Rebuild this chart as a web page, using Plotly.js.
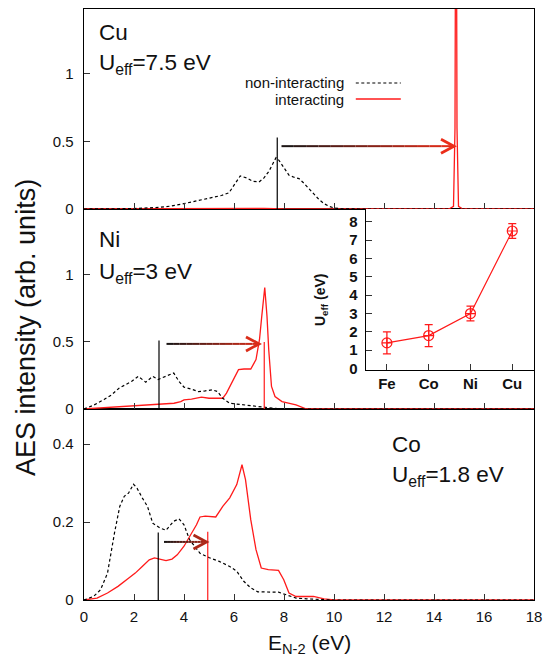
<!DOCTYPE html>
<html><head><meta charset="utf-8">
<script src="https://cdn.plot.ly/plotly-3.0.1.min.js"></script>
<style>html,body{margin:0;padding:0;background:#fff}#chart{width:545px;height:656px}</style>
</head><body><div id="chart"></div>
<script>
// ---------- data ----------
// Cu panel (top)
var cuNonX = [0,1,2,3,3.5,4,4.5,5,5.5,5.8,6.0,6.25,6.5,6.75,7.0,7.2,7.4,7.55,7.68,7.8,8.0,8.2,8.4,8.6,8.8,9.0,9.2,9.4,9.6,9.8,10.0,10.3,11,18];
var cuNon  = [0,0,0.003,0.012,0.022,0.04,0.06,0.08,0.1,0.12,0.18,0.245,0.23,0.205,0.2,0.23,0.28,0.34,0.38,0.36,0.3,0.25,0.235,0.225,0.19,0.15,0.105,0.07,0.04,0.02,0.008,0.002,0,0];
var cuIntX = [0,5,5.8,6.5,7.2,8,14.6,14.78,14.84,14.88,14.92,14.98,15.15,18];
var cuInt  = [0,0.002,0.006,0.008,0.004,0,0,0.02,0.6,3.5,0.6,0.02,0,0];
// Ni panel (middle)
var niNonX = [0,0.4,0.8,1.1,1.4,1.65,1.9,2.17,2.33,2.47,2.6,2.75,2.96,3.17,3.41,3.59,3.8,4.0,4.3,4.57,4.85,5.13,5.34,5.55,5.83,6.25,6.67,7.1,7.6,8.1,18];
var niNon  = [0,0.03,0.07,0.105,0.155,0.18,0.205,0.243,0.22,0.2,0.22,0.243,0.22,0.235,0.25,0.268,0.205,0.163,0.148,0.13,0.135,0.143,0.13,0.08,0.043,0.033,0.023,0.013,0.005,0,0];
var niIntX = [0,0.8,1.5,2.2,2.75,3.3,3.6,3.87,4.0,4.3,4.7,5.0,5.27,5.55,5.7,5.97,6.18,6.4,6.67,6.88,7.02,7.11,7.23,7.32,7.39,7.5,7.64,7.92,8.2,8.48,8.9,18];
var niInt  = [0,0.01,0.018,0.025,0.035,0.038,0.043,0.055,0.068,0.073,0.088,0.08,0.078,0.08,0.118,0.218,0.293,0.298,0.298,0.368,0.518,0.69,0.905,0.69,0.44,0.168,0.093,0.055,0.043,0.03,0,0];
// Co panel (bottom)
var coNonX = [0,0.38,0.66,0.94,1.22,1.43,1.61,1.78,1.98,2.12,2.33,2.54,2.75,3.03,3.28,3.59,3.8,4.0,4.22,4.43,4.64,4.99,5.41,5.83,6.11,6.39,6.67,6.95,7.37,7.78,8.06,8.48,8.9,9.46,9.88,18];
var coNon  = [0,0.009,0.026,0.069,0.172,0.24,0.266,0.274,0.297,0.287,0.262,0.24,0.197,0.185,0.179,0.202,0.208,0.193,0.155,0.138,0.12,0.109,0.099,0.086,0.074,0.048,0.031,0.021,0.021,0.02,0.014,0.005,0.003,0.001,0,0];
var coIntX = [0,0.52,0.94,1.36,1.78,2.05,2.33,2.61,2.82,3.03,3.28,3.52,3.73,4.0,4.29,4.5,4.64,4.85,5.27,5.55,5.83,6.11,6.32,6.46,6.67,6.88,7.09,7.37,7.78,7.99,8.2,8.48,9.18,9.6,10.0,18];
var coInt  = [0,0.005,0.018,0.035,0.056,0.069,0.086,0.103,0.108,0.105,0.101,0.105,0.116,0.138,0.168,0.193,0.213,0.215,0.213,0.24,0.262,0.296,0.347,0.309,0.206,0.129,0.082,0.078,0.076,0.052,0.018,0.009,0.009,0.003,0,0];
// centroid markers: [x, height]
var cuCentNon = [7.73, 0.53];
var niCentNon = [3.0, 0.51];
var niCentInt = [7.21, 0.50];
var coCentNon = [2.97, 0.173];
var coCentInt = [4.95, 0.175];
// inset
var elements = ['Fe','Co','Ni','Cu'];
var ueff     = [1.4, 1.8, 3.0, 7.5];
var ueffErr  = [0.6, 0.6, 0.4, 0.4];
// tick labels
var xTicks = [0,2,4,6,8,10,12,14,16,18];
var yTicksBig = [0,0.5,1];
var yTicksCo = [0,0.2,0.4];
var yTicksInset = [0,1,2,3,4,5,6,7,8];

// ---------- styles ----------
var FONT = 'Liberation Sans, Arial, Helvetica, sans-serif';
var RED = '#ff1a1a';
var dashLine = {color:'#000', width:1.2, dash:'3px,2.5px'};
var redLine = {color:RED, width:1.3};

function tr(x, y, line, xa, ya){ return {x:x, y:y, mode:'lines', line:line, xaxis:xa, yaxis:ya, hoverinfo:'skip', showlegend:false}; }
function vline(c, color, xa, ya){ return tr([c[0],c[0]],[0,c[1]],{color:color,width:1.2},xa,ya); }

var data = [
  tr(coIntX, coInt, redLine, 'x','y'),
  tr(coNonX, coNon, dashLine, 'x','y'),
  vline(coCentNon,'#000','x','y'),
  vline(coCentInt,RED,'x','y'),
  tr(niIntX, niInt, redLine, 'x2','y2'),
  tr(niNonX, niNon, dashLine, 'x2','y2'),
  vline(niCentNon,'#000','x2','y2'),
  vline(niCentInt,RED,'x2','y2'),
  tr(cuIntX, cuInt, redLine, 'x3','y3'),
  tr(cuNonX, cuNon, dashLine, 'x3','y3'),
  vline(cuCentNon,'#000','x3','y3'),
  {x:[1,2,3,4], y:ueff, text:elements, mode:'lines+markers', xaxis:'x4', yaxis:'y4', showlegend:false, hoverinfo:'skip',
   line:{color:RED,width:1.2}, marker:{symbol:'circle-cross-open', size:10, color:RED, line:{width:1.2, color:RED}},
   error_y:{type:'data', array:ueffErr, visible:true, color:RED, thickness:1.3, width:4}}
];

var dY = 191/591, dM = 391/591;
function xax(anchor, labels){
  return {domain:[0,1], range:[0,18], anchor:anchor, showline:true, mirror:true, linecolor:'#000', linewidth:1.3,
    ticks:'inside', ticklen:6, tickwidth:1, tickcolor:'#333', tickvals:xTicks, showticklabels:labels,
    tickfont:{family:FONT, size:15, color:'#111'}, showgrid:false, zeroline:false, fixedrange:true, ticklabelstandoff:3};
}
function yax(anchor, dom, range, tv, tt){
  return {domain:dom, range:range, anchor:anchor, showline:true, mirror:true, linecolor:'#000', linewidth:1.3,
    ticks:'inside', ticklen:6, tickwidth:1, tickcolor:'#333', tickvals:tv, ticktext:tt,
    tickfont:{family:FONT, size:15, color:'#111'}, showgrid:false, zeroline:false, ticklabelstandoff:6};
}

// arrows: [x0, x1, y, xref, yref, end colour]
var arrows = [
  [7.9, 14.8, 0.465, 'x3','y3', [235,45,25]],
  [3.3, 7.0, 0.485, 'x2','y2', [218,45,25]],
  [3.2, 4.9, 0.149, 'x','y', [172,40,24]]
];
var shapes = [];
arrows.forEach(function(a){
  var N = 14;
  for (var i=0;i<N;i++){
    var f0=i/N, f1=(i+1)/N, t=(i+0.5)/N;
    var c='rgb('+Math.round(20+(a[5][0]-20)*t)+','+Math.round(20+(a[5][1]-20)*t)+','+Math.round(20+(a[5][2]-20)*t)+')';
    shapes.push({type:'line', xref:a[3], yref:a[4], x0:a[0]+(a[1]-a[0])*f0, x1:a[0]+(a[1]-a[0])*f1, y0:a[2], y1:a[2], line:{color:c, width:2}});
  }
  var hc='rgb('+a[5][0]+','+a[5][1]+','+a[5][2]+')';
  shapes.push({type:'path', xref:a[3], yref:a[4], xsizemode:'pixel', ysizemode:'pixel', xanchor:a[1], yanchor:a[2],
    path:'M -13 7 L 0 0 L -13 -7', line:{color:hc, width:2.8}});
});
// legend samples
shapes.push({type:'line', xref:'paper', yref:'paper', x0:0.604, x1:0.704, y0:0.8748, y1:0.8748, line:{color:'#000', width:1.2, dash:'3px,2.5px'}});
shapes.push({type:'line', xref:'paper', yref:'paper', x0:0.604, x1:0.704, y0:0.8477, y1:0.8477, line:{color:RED, width:1.3}});

var AF = {family:FONT, size:22.5, color:'#111'};
var LF = {family:FONT, size:15, color:'#111'};
var annotations = [
  {text:'Cu', x:0.52, y:1.306, xref:'x3', yref:'y3', xanchor:'left', yanchor:'middle', showarrow:false, font:AF},
  {text:'U<sub>eff</sub>=7.5 eV', x:0.52, y:1.075, xref:'x3', yref:'y3', xanchor:'left', yanchor:'middle', showarrow:false, font:AF},
  {text:'Ni', x:0.52, y:1.26, xref:'x2', yref:'y2', xanchor:'left', yanchor:'middle', showarrow:false, font:AF},
  {text:'U<sub>eff</sub>=3 eV', x:0.52, y:1.01, xref:'x2', yref:'y2', xanchor:'left', yanchor:'middle', showarrow:false, font:AF},
  {text:'Co', x:12.24, y:0.4, xref:'x', yref:'y', xanchor:'left', yanchor:'middle', showarrow:false, font:AF},
  {text:'U<sub>eff</sub>=1.8 eV', x:12.24, y:0.318, xref:'x', yref:'y', xanchor:'left', yanchor:'middle', showarrow:false, font:AF},
  {text:'non-interacting', x:0.582, y:0.8748, xref:'paper', yref:'paper', xanchor:'right', yanchor:'middle', showarrow:false, font:LF},
  {text:'interacting', x:0.582, y:0.8477, xref:'paper', yref:'paper', xanchor:'right', yanchor:'middle', showarrow:false, font:LF},
  {text:'AES intensity (arb. units)', x:(26-84)/450, y:(600-328)/591, xref:'paper', yref:'paper', xanchor:'center', yanchor:'middle', textangle:-90, showarrow:false, font:{family:FONT, size:27, color:'#111'}},
  {text:'E<sub>N-2</sub> (eV)', x:0.5, y:-0.049, xref:'paper', yref:'paper', xanchor:'center', yanchor:'top', showarrow:false, font:{family:FONT, size:21, color:'#111'}},
  {text:'<b>U<sub>eff</sub> (eV)</b>', x:(321-84)/450, y:(600-300)/591, xref:'paper', yref:'paper', xanchor:'center', yanchor:'middle', textangle:-90, showarrow:false, font:{family:FONT, size:14, color:'#111'}}
];

var insetL = (366-84)/450, insetB = (600-369.5)/591;
var layout = {
  width:545, height:656, margin:{l:84, r:11, t:9, b:56}, paper_bgcolor:'#fff', plot_bgcolor:'#fff', showlegend:false,
  xaxis: xax('y', true),
  xaxis2: xax('y2', false),
  xaxis3: xax('y3', false),
  yaxis: yax('x', [0,dY], [0,0.49], yTicksCo, ['0','0.2','0.4']),
  yaxis2: yax('x2', [dY,dM], [0,1.49], yTicksBig, ['0','0.5','1']),
  yaxis3: yax('x3', [dM,1], [0,1.48], yTicksBig, ['0','0.5','1']),
  xaxis4: {domain:[insetL,1], range:[0.5,4.52], anchor:'y4', showline:true, mirror:false, linecolor:'#000', linewidth:1.3,
    ticks:'inside', ticklen:6, tickcolor:'#333', tickvals:[1,2,3,4], ticktext:elements, showgrid:false, zeroline:false,
    tickfont:{family:FONT, size:15, color:'#111', weight:'bold'}},
  yaxis4: {domain:[insetB,dM], range:[-0.05,8.7], anchor:'x4', showline:true, mirror:false, linecolor:'#000', linewidth:1.3,
    ticks:'inside', ticklen:6, tickcolor:'#333', tickvals:yTicksInset, showgrid:false, zeroline:false,
    tickfont:{family:FONT, size:15, color:'#111', weight:'bold'}, ticklabelstandoff:4},
  shapes: shapes,
  annotations: annotations
};
Plotly.newPlot('chart', data, layout, {staticPlot:true, displayModeBar:false});
</script></body></html>
